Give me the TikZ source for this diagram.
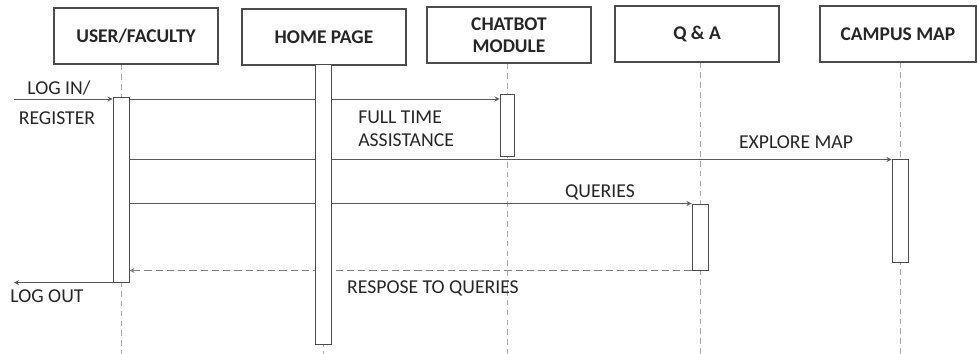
\documentclass[tikz,border=0pt]{standalone}
\usepackage{fontspec}
\setmainfont{Carlito}
\usetikzlibrary{backgrounds}

\begin{document}
\begin{tikzpicture}[x=0.025cm,y=-0.025cm,
  actor/.style={draw=black!70,line width=0.8pt,minimum width=4.1cm,minimum height=1.4cm,
    inner sep=0pt,align=center,font=\bfseries\fontsize{13.8}{16}\selectfont,text=black!85},
  bar/.style={draw=black!70,fill=white,line width=0.7pt,minimum width=0.4cm,inner sep=0pt},
  life/.style={gray!70,line width=0.7pt,dash pattern=on 4pt off 3pt},
  msg/.style={-stealth,black!65,line width=0.6pt},
  lbl/.style={font=\fontsize{14}{16}\selectfont,text=black!85,inner sep=0pt}]
  \useasboundingbox (0,0) rectangle (977,354);

  % actors
  \node[actor] (user) at (136,36) {USER/FACULTY};
  \node[actor] (home) at (324,37) {HOME PAGE};
  \node[actor] (chat) at (509,35) {CHATBOT\\MODULE};
  \node[actor] (qa) at (697,34) {Q \& A};
  \node[actor,minimum width=3.9cm] (map) at (898,34) {CAMPUS MAP};

  % activation bars
  \node[bar,minimum height=4.6cm] (userbar) at (121,190) {};
  \node[bar,minimum height=6.975cm] (homebar) at (323.5,204.5) {};
  \node[bar,minimum width=0.35cm,minimum height=1.525cm] (chatbar) at (507,125.5) {};
  \node[bar,minimum height=1.65cm] (qabar) at (700,237) {};
  \node[bar,minimum height=2.55cm] (mapbar) at (900,211) {};

  \coordinate (bot) at (0,354);
  \coordinate (login) at (14,99);

  \begin{pgfonlayer}{background}
    % lifelines
    \foreach \b/\a in {userbar/user,homebar/home,chatbar/chat,qabar/qa,mapbar/map}
      \draw[life] (\b |- \a.south) -- (\b |- bot);
    % messages
    \draw[msg] (login) -- (login -| userbar.west);
    \draw[msg] (userbar.east |- login) -- (chatbar.west |- login);
    \draw[msg] (userbar.east |- mapbar.north) -- (mapbar.north west);
    \draw[msg] (userbar.east |- qabar.north) -- (qabar.north west);
    \draw[msg,gray,dash pattern=on 5pt off 3pt] (qabar.south west) -- (userbar.east |- qabar.south);
    \draw[msg] (userbar.south west) -- (userbar.south west -| login);
  \end{pgfonlayer}

  % labels
  \node[lbl] (loginlbl) at (59,88) {LOG IN/};
  \node[lbl] (reglbl) at (57,118) {REGISTER};
  \node[lbl,align=left,anchor=west] (assistlbl) at (358,129) {FULL TIME\\ASSISTANCE};
  \node[lbl] (explorelbl) at (796,142) {EXPLORE MAP};
  \node[lbl] (querylbl) at (600,192) {QUERIES};
  \node[lbl] (resplbl) at (433,288) {RESPOSE TO QUERIES};
  \node[lbl] (logoutlbl) at (47,296) {LOG OUT};
\end{tikzpicture}
\end{document}
